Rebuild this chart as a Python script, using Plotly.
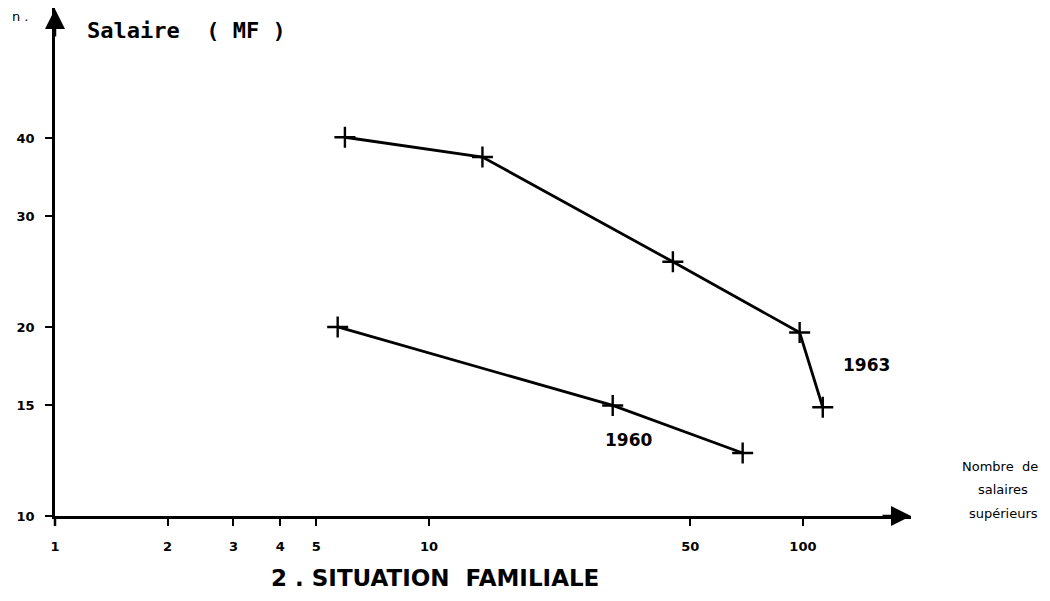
import plotly.graph_objects as go

# Data (log-log chart)
x_1963 = [5.96, 13.9, 44.9, 98, 113]
y_1963 = [40.1, 37.3, 25.4, 19.6, 14.9]
x_1960 = [5.7, 31, 69]
y_1960 = [20.0, 15.0, 12.6]

x_ticks = [1, 2, 3, 4, 5, 10, 50, 100]
x_ticklabels = ["1", "2", "3", "4", "5", "10", "50", "100"]
y_ticks = [10, 15, 20, 30, 40]
y_ticklabels = ["10", "15", "20", "30", "40"]

FONT = "DejaVu Sans"
MONO = "DejaVu Sans Mono"

# page geometry (page has an 8px body margin)
PL, PT, PW, PH = 55, 8, 856, 508


def px(x):
    return (x - PL) / PW


def py(y):
    return (PT + PH - y) / PH


fig = go.Figure()
for xs, ys in [(x_1963, y_1963), (x_1960, y_1960)]:
    fig.add_trace(go.Scatter(
        x=xs, y=ys, mode="lines+markers",
        line=dict(color="black", width=2.8),
        marker=dict(symbol="cross-thin", size=15, line=dict(color="black", width=2.4), color="black"),
        showlegend=False, hoverinfo="skip"))

fig.update_layout(
    width=1034, height=585,
    margin=dict(l=PL - 8, r=1034 - (PL - 8) - PW, t=PT - 8, b=585 - (PT - 8) - PH),
    paper_bgcolor="white", plot_bgcolor="white",
    font=dict(family=FONT, color="black"),
    xaxis=dict(type="log", range=[0, 2.289], showgrid=False, zeroline=False,
               showline=True, linecolor="black", linewidth=2.5,
               tickmode="array", tickvals=x_ticks, ticktext=x_ticklabels,
               ticks="outside", ticklen=7, tickwidth=2, tickcolor="black",
               tickfont=dict(family=FONT, size=13, color="black", weight="bold"),
               ticklabelstandoff=10),
    yaxis=dict(type="log", range=[1, 1.809], showgrid=False, zeroline=False,
               showline=True, linecolor="black", linewidth=2.5,
               tickmode="array", tickvals=y_ticks, ticktext=y_ticklabels,
               ticks="outside", ticklen=7, tickwidth=2, tickcolor="black",
               tickfont=dict(family=FONT, size=13, color="black", weight="bold"),
               ticklabelstandoff=8),
)

# y axis slightly extending below x axis
fig.add_shape(type="line", xref="paper", yref="paper", x0=0, x1=0, y0=0, y1=-10 / PH,
              line=dict(color="black", width=2.5))

# Axis arrowheads
fig.add_annotation(x=1, y=0, xref="paper", yref="paper", ax=-30, ay=0,
                   axref="pixel", ayref="pixel", showarrow=True, arrowhead=2,
                   arrowsize=1.6, arrowwidth=2.5, arrowcolor="black", text="")
fig.add_annotation(x=0, y=1, xref="paper", yref="paper", ax=0, ay=30,
                   axref="pixel", ayref="pixel", showarrow=True, arrowhead=2,
                   arrowsize=1.6, arrowwidth=2.5, arrowcolor="black", text="")


def txt(x, y, s, size, bold=False, xanchor="center", family=FONT):
    f = dict(family=family, size=size, color="black")
    if bold:
        f["weight"] = "bold"
    fig.add_annotation(x=px(x), y=py(y), xref="paper", yref="paper", text=s,
                       showarrow=False, xanchor=xanchor, yanchor="middle", font=f)


txt(85, 30, "Salaire  ( MF )", 22, bold=True, xanchor="left", family=MONO)
txt(866, 365, "1963", 17, bold=True)
txt(628, 440, "1960", 17, bold=True)
txt(1040, 466, "Nombre  de", 13, xanchor="right")
txt(1030, 489, "salaires", 13, xanchor="right")
txt(1040, 513, "supérieurs", 13, xanchor="right")
txt(435, 578, "2 . SITUATION  FAMILIALE", 23, bold=True)
txt(10, 17, "n .", 13, xanchor="left")

fig.write_html("out.html")
